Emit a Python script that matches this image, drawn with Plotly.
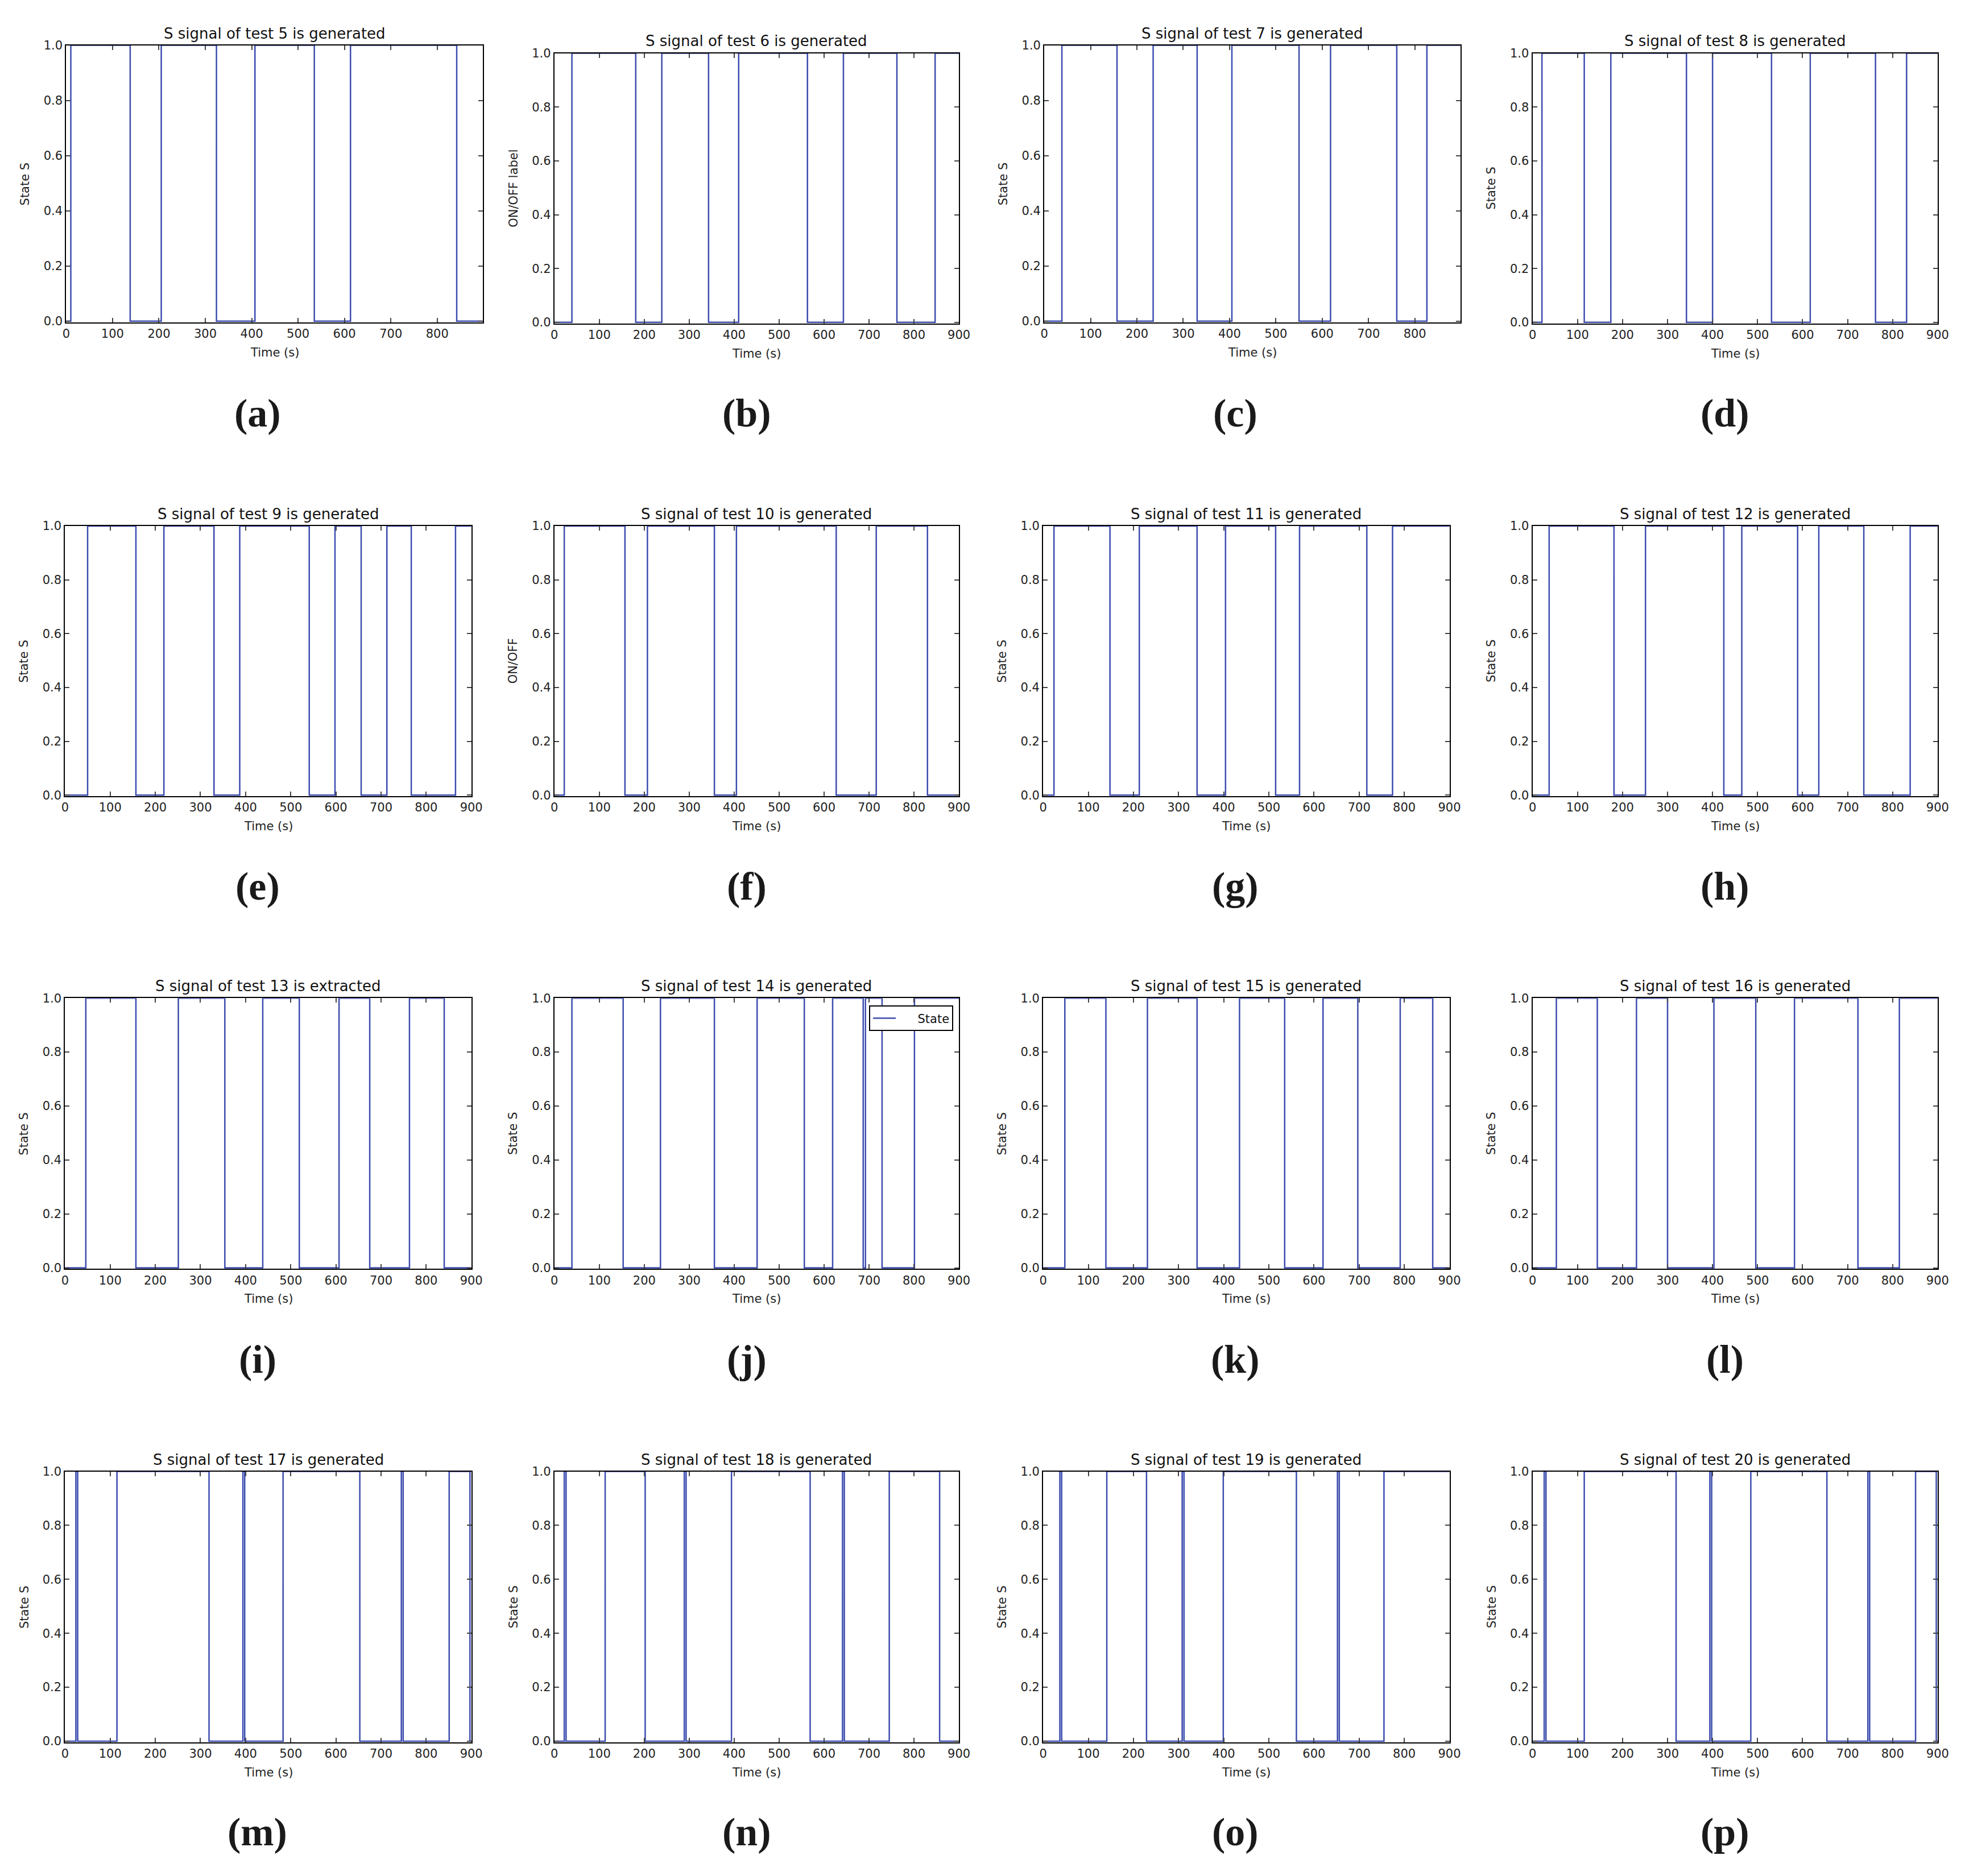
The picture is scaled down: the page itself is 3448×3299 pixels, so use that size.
import plotly.graph_objects as go

W, H = 3448, 3299

# ---------------- data ----------------
test_ids = [5, 6, 7, 8, 9, 10, 11, 12, 13, 14, 15, 16, 17, 18, 19, 20]
verbs = ["generated"] * 8 + ["extracted"] + ["generated"] * 7
ylabels = ["State S", "ON/OFF label", "State S", "State S",
           "State S", "ON/OFF", "State S", "State S",
           "State S", "State S", "State S", "State S",
           "State S", "State S", "State S", "State S"]
x_ends = [898, 900, 898, 900, 900, 900, 900, 900,
          900, 900, 900, 900, 900, 900, 900, 900]
panel_letters = ["(a)", "(b)", "(c)", "(d)", "(e)", "(f)", "(g)", "(h)",
                 "(i)", "(j)", "(k)", "(l)", "(m)", "(n)", "(o)", "(p)"]

# switching times (s); the state starts at 0 and toggles at each time
switch_5 = [10, 138, 205, 324, 407, 535, 613, 842]
switch_6 = [39, 181, 239, 343, 410, 563, 643, 762, 847]
switch_7 = [38, 157, 235, 330, 405, 550, 618, 761, 826]
switch_8 = [21, 115, 174, 342, 400, 531, 617, 762, 831]
switch_9 = [50, 157, 219, 330, 387, 541, 598, 656, 713, 767, 865]
switch_10 = [22, 157, 207, 356, 405, 627, 716, 830]
switch_11 = [24, 148, 213, 341, 404, 515, 568, 717, 774]
switch_12 = [37, 181, 251, 425, 465, 589, 636, 736, 839]
switch_13 = [46, 157, 251, 354, 438, 519, 607, 675, 763, 840]
switch_14 = [39, 153, 236, 356, 451, 556, 619, 687, 692, 729, 801]
switch_15 = [48, 139, 231, 341, 435, 535, 620, 697, 791, 863]
switch_16 = [53, 144, 231, 300, 403, 496, 582, 723, 815]
switch_17 = [24, 28, 115, 319, 394, 398, 483, 653, 745, 749, 851, 897]
switch_18 = [22, 26, 113, 202, 289, 293, 394, 569, 641, 645, 745, 857]
switch_19 = [37, 41, 141, 229, 308, 312, 399, 561, 652, 656, 755]
switch_20 = [26, 30, 115, 319, 394, 398, 485, 654, 745, 749, 851, 897]

switches = [switch_5, switch_6, switch_7, switch_8, switch_9, switch_10,
            switch_11, switch_12, switch_13, switch_14, switch_15, switch_16,
            switch_17, switch_18, switch_19, switch_20]

# ---------------- layout (target pixel boxes of the plot areas) ----------------
col_lr_row1 = [(115, 847), (973, 1684), (1834, 2565), (2692, 3404)]
col_lr = [(113, 827), (973, 1684), (1832, 2546), (2692, 3404)]
row1_tb = [(80, 567), (94, 569), (80, 567), (94, 569)]
rows_tb = [(925, 1400), (1755, 2231), (2587, 3063)]
title_y_row1 = [59, 72, 59, 72]
title_y_rows = [904, 1734, 2566]
label_x_cols = [451, 1311, 2170, 3030]
label_y_rows = [727, 1558, 2390, 3221]
legend_right, legend_top = 1674, 1768

# compensation for the small scale/offset observed in the photographed page
KX, OX = 0.9917, 5.7
KY, OY = 0.9929, 12.5


def px(v):
    return ((v - OX) / KX) / W


def py(v):
    return 1 - ((v - OY) / KY) / H


BLUE = "#3c4cae"
FONT = "DejaVu Sans"

fig = go.Figure()
annotations = []
layout = {}

for i, (tid, sw) in enumerate(zip(test_ids, switches)):
    r, c = divmod(i, 4)
    if r == 0:
        l, rr = col_lr_row1[c]
        t, b = row1_tb[c]
        ty = title_y_row1[c]
    else:
        l, rr = col_lr[c]
        t, b = rows_tb[r - 1]
        ty = title_y_rows[r - 1]
    xend = x_ends[i]
    xs = [0] + list(sw) + [xend]
    ys = [k % 2 for k in range(len(sw) + 1)]
    ys.append(ys[-1])
    n = i + 1
    xname = "x" if n == 1 else f"x{n}"
    yname = "y" if n == 1 else f"y{n}"
    fig.add_trace(go.Scatter(
        x=xs, y=ys, mode="lines",
        name="\u00a0\u00a0\u00a0\u00a0\u00a0State",
        line=dict(color=BLUE, width=2.5, shape="hv"),
        showlegend=(tid == 14), xaxis=xname, yaxis=yname))
    common = dict(showline=True, linecolor="black", linewidth=2, mirror="allticks",
                  ticks="inside", ticklen=8, tickwidth=1.5, tickcolor="#444444",
                  showgrid=False, zeroline=False,
                  tickfont=dict(family=FONT, size=21, color="#222222"))
    layout["xaxis" if n == 1 else f"xaxis{n}"] = dict(
        domain=[px(l), px(rr)], anchor=yname, range=[0, xend],
        tickmode="array", tickvals=[v for v in range(0, 1000, 100) if v <= xend],
        **common)
    layout["yaxis" if n == 1 else f"yaxis{n}"] = dict(
        domain=[py(b), py(t)], anchor=xname, range=[-0.004, 1],
        tickmode="array", tickvals=[0, 0.2, 0.4, 0.6, 0.8, 1.0],
        tickformat=".1f", **common)
    cx = (l + rr) / 2
    annotations.append(dict(text=f"S signal of test {tid} is {verbs[i]}",
                            x=px(cx), y=py(ty), xref="paper", yref="paper",
                            xanchor="center", yanchor="middle", showarrow=False,
                            font=dict(family=FONT, size=26, color="#111111")))
    annotations.append(dict(text="Time (s)", x=px(cx), y=py(b + 53),
                            xref="paper", yref="paper", xanchor="center",
                            yanchor="middle", showarrow=False,
                            font=dict(family=FONT, size=21, color="#222222")))
    annotations.append(dict(text=ylabels[i], x=px(l - 72), y=py((t + b) / 2),
                            xref="paper", yref="paper", xanchor="center",
                            yanchor="middle", textangle=-90, showarrow=False,
                            font=dict(family=FONT, size=21, color="#222222")))
    annotations.append(dict(text="<b>" + panel_letters[i] + "</b>",
                            x=px(label_x_cols[c]), y=py(label_y_rows[r]),
                            xref="paper", yref="paper",
                            xanchor="center", yanchor="middle", showarrow=False,
                            font=dict(family="Liberation Serif", size=70, color="#1a1a1a")))

fig.update_layout(
    width=W, height=H, autosize=False,
    margin=dict(l=0, r=0, t=0, b=0),
    paper_bgcolor="white", plot_bgcolor="white",
    annotations=annotations,
    legend=dict(x=px(legend_right), y=py(legend_top), xanchor="right", yanchor="top",
                bordercolor="black", borderwidth=2, bgcolor="white",
                font=dict(family=FONT, size=21, color="#111111"),
                itemwidth=40),
    **layout)

fig.write_html(
    "out.html",
    config={"displayModeBar": False},
    post_script=(
        "document.body.style.margin='0px';"
        "document.body.style.overflow='hidden';"
    ))
